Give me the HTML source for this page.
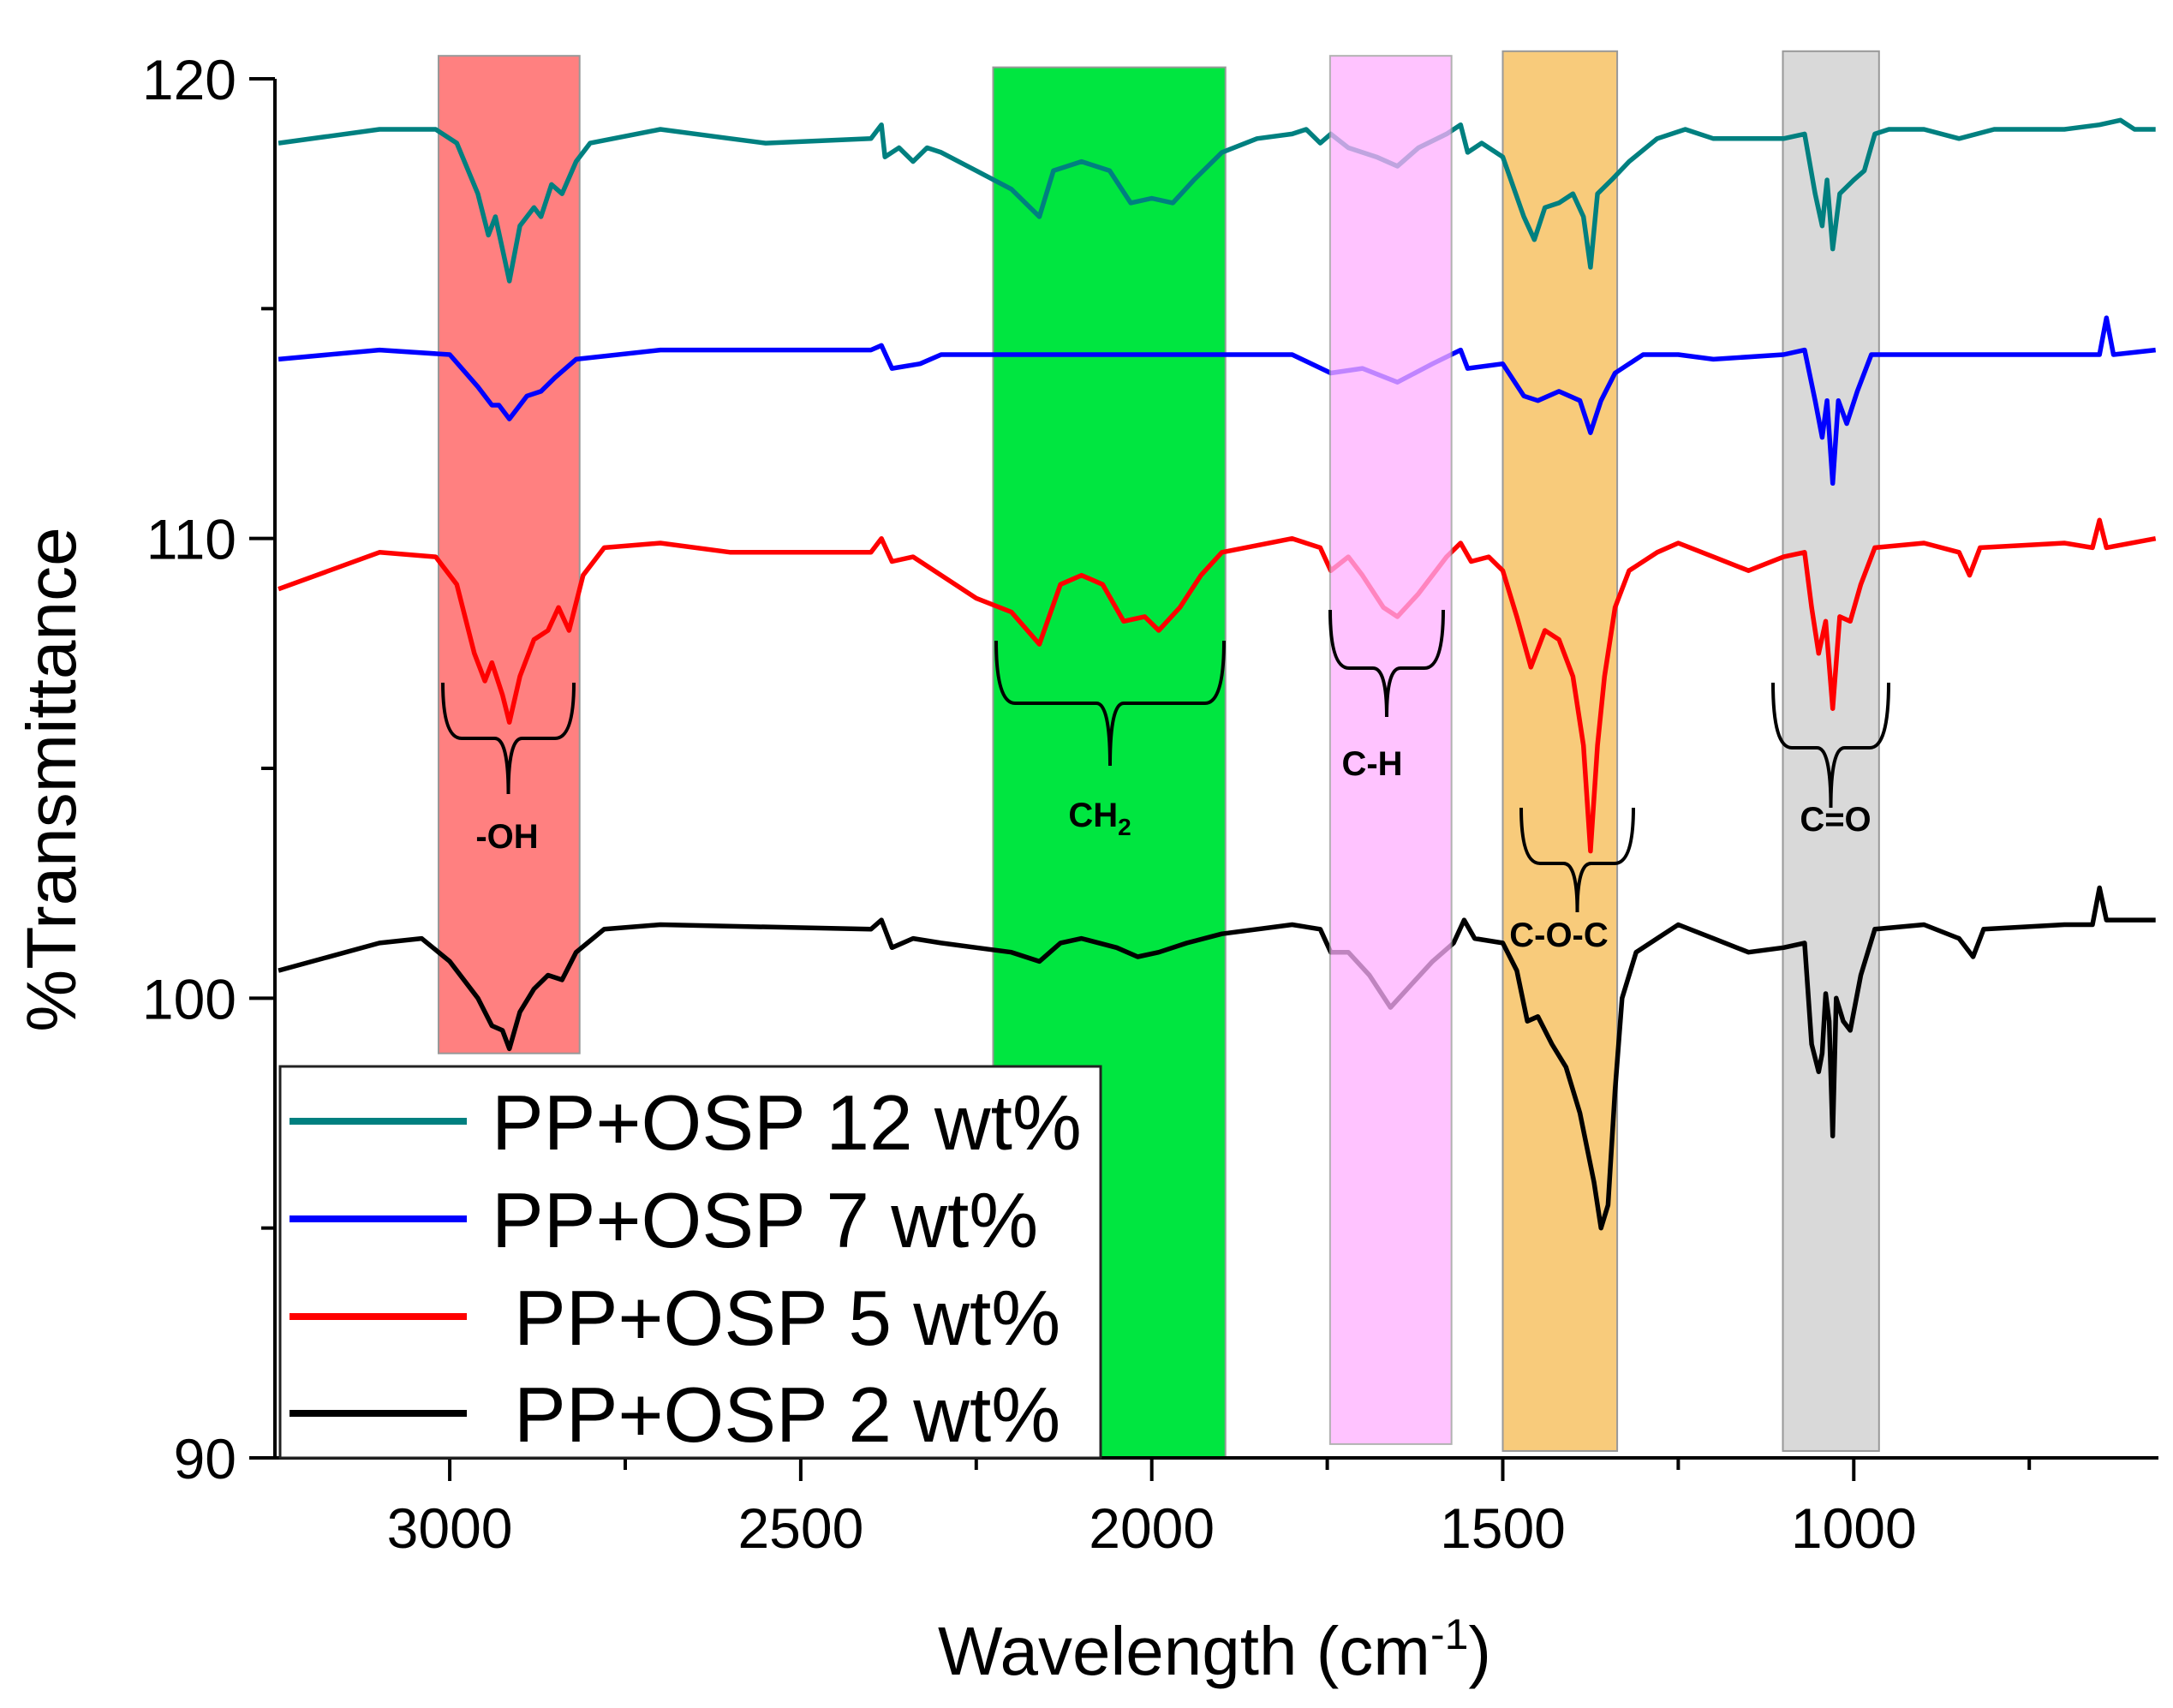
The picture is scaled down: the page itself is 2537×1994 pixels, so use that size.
<!DOCTYPE html>
<html><head><meta charset="utf-8"><style>
html,body{margin:0;padding:0;background:#fff;}
svg{display:block;font-family:"Liberation Sans",Arial,sans-serif;}
</style></head><body>
<svg id="chart" width="2537" height="1994" viewBox="0 0 2537 1994" xmlns="http://www.w3.org/2000/svg">
<g id="bands"></g>
<g id="series"></g>
<g id="overbands"></g>
<g id="axes"></g>
<g id="annot"></g>
<g id="legend"></g>
</svg>
<script>
const xTicks=[3000,2500,2000,1500,1000];
const xMinor=[2750,2250,1750,1250,750];
const yTicks=[90,100,110,120];
const yMinor=[95,105,115];
const bandLabels=['-OH','CH2','C-H','C-O-C','C=O'];
const bandFrom=[3016,2226,1746,1500,1101];
const bandTo=[2815,1895,1573,1337,964];
const bandTop=[120.5,120.25,120.5,120.6,120.6];
const bandBottom=[98.8,90,90.3,90.15,90.15];
const bandColors=['#ff8080','#00e640','#ffb0ff','#f8cb7b','#d9d9d9'];
const seriesNames=['PP+OSP 12 wt%','PP+OSP 7 wt%',' PP+OSP 5 wt%',' PP+OSP 2 wt%'];
const seriesColors=['#008080','#0000ff','#ff0000','#000000'];
const waveTeal=[3244,3100,3020,2990,2960,2945,2935,2925,2915,2900,2880,2870,2855,2840,2820,2800,2700,2600,2550,2400,2385,2380,2360,2340,2320,2300,2250,2200,2160,2140,2100,2060,2030,2000,1970,1940,1900,1850,1800,1780,1760,1745,1720,1680,1650,1620,1580,1560,1550,1530,1500,1470,1455,1440,1420,1400,1385,1375,1365,1345,1320,1280,1240,1200,1150,1100,1070,1055,1045,1038,1030,1020,1000,985,970,950,900,850,800,700,650,620,600,570];
const valTeal=[118.6,118.9,118.9,118.6,117.5,116.6,117.0,116.3,115.6,116.8,117.2,117.0,117.7,117.5,118.2,118.6,118.9,118.7,118.6,118.7,119.0,118.3,118.5,118.2,118.5,118.4,118.0,117.6,117.0,118.0,118.2,118.0,117.3,117.4,117.3,117.8,118.4,118.7,118.8,118.9,118.6,118.8,118.5,118.3,118.1,118.5,118.8,119.0,118.4,118.6,118.3,117.0,116.5,117.2,117.3,117.5,117.0,115.9,117.5,117.8,118.2,118.7,118.9,118.7,118.7,118.7,118.8,117.5,116.8,117.8,116.3,117.5,117.8,118.0,118.8,118.9,118.9,118.7,118.9,118.9,119.0,119.1,118.9,118.9];
const waveBlue=[3244,3100,3000,2960,2940,2930,2915,2890,2870,2850,2820,2700,2400,2385,2370,2330,2300,2000,1800,1745,1700,1650,1600,1560,1550,1500,1470,1450,1420,1390,1375,1360,1340,1300,1250,1200,1100,1070,1055,1045,1038,1030,1022,1010,995,975,900,700,650,640,630,570];
const valBlue=[113.9,114.1,114.0,113.3,112.9,112.9,112.6,113.1,113.2,113.5,113.9,114.1,114.1,114.2,113.7,113.8,114.0,114.0,114.0,113.6,113.7,113.4,113.8,114.1,113.7,113.8,113.1,113.0,113.2,113.0,112.3,113.0,113.6,114.0,114.0,113.9,114.0,114.1,113.0,112.2,113.0,111.2,113.0,112.5,113.2,114.0,114.0,114.0,114.0,114.8,114.0,114.1];
const waveRed=[3244,3100,3020,2990,2965,2950,2940,2925,2915,2900,2880,2860,2845,2830,2810,2780,2700,2600,2400,2385,2370,2340,2300,2250,2200,2160,2130,2100,2070,2040,2010,1990,1960,1930,1900,1800,1760,1745,1720,1700,1670,1650,1620,1580,1560,1545,1520,1500,1480,1460,1440,1420,1400,1385,1375,1365,1355,1340,1320,1280,1250,1200,1150,1100,1070,1060,1050,1040,1030,1020,1005,990,970,900,850,835,820,700,660,650,640,570];
const valRed=[108.9,109.7,109.6,109.0,107.5,106.9,107.3,106.6,106.0,107.0,107.8,108.0,108.5,108.0,109.2,109.8,109.9,109.7,109.7,110.0,109.5,109.6,109.2,108.7,108.4,107.7,109.0,109.2,109.0,108.2,108.3,108.0,108.5,109.2,109.7,110.0,109.8,109.3,109.6,109.2,108.5,108.3,108.8,109.6,109.9,109.5,109.6,109.3,108.3,107.2,108.0,107.8,107.0,105.5,103.2,105.5,107.0,108.5,109.3,109.7,109.9,109.6,109.3,109.6,109.7,108.5,107.5,108.2,106.3,108.3,108.2,109.0,109.8,109.9,109.7,109.2,109.8,109.9,109.8,110.4,109.8,110.0];
const waveBlack=[3244,3100,3040,3000,2960,2940,2925,2915,2900,2880,2860,2840,2820,2780,2700,2400,2385,2370,2340,2300,2200,2160,2130,2100,2050,2020,1990,1950,1900,1800,1760,1745,1720,1690,1660,1630,1600,1570,1555,1540,1500,1480,1465,1450,1430,1410,1390,1370,1360,1350,1340,1330,1310,1280,1250,1200,1150,1100,1070,1060,1050,1045,1040,1035,1030,1025,1015,1005,990,970,900,850,830,815,700,660,650,640,570];
const valBlack=[100.6,101.2,101.3,100.8,100.0,99.4,99.3,98.9,99.7,100.2,100.5,100.4,101.0,101.5,101.6,101.5,101.7,101.1,101.3,101.2,101.0,100.8,101.2,101.3,101.1,100.9,101.0,101.2,101.4,101.6,101.5,101.0,101.0,100.5,99.8,100.3,100.8,101.2,101.7,101.3,101.2,100.6,99.5,99.6,99.0,98.5,97.5,96.0,95.0,95.5,98.0,100.0,101.0,101.3,101.6,101.3,101.0,101.1,101.2,99.0,98.4,98.8,100.1,99.5,97.0,100.0,99.5,99.3,100.5,101.5,101.6,101.3,100.9,101.5,101.6,101.6,102.4,101.7,101.7];

const NS='http://www.w3.org/2000/svg';
const X0=321,X1=2520,Y0=1702,Y1=92;
const xMin=3249,xMax=566,yMin=90,yMax=120;
function sx(v){return X0+(xMin-v)/(xMin-xMax)*(X1-X0);}
function sy(v){return Y0-(v-yMin)/(yMax-yMin)*(Y0-Y1);}
function mk(tag,attrs,parent){const e=document.createElementNS(NS,tag);for(const k in attrs)e.setAttribute(k,attrs[k]);parent.appendChild(e);return e;}
const gB=document.getElementById('bands'),gS=document.getElementById('series'),gO=document.getElementById('overbands'),gA=document.getElementById('axes'),gN=document.getElementById('annot'),gL=document.getElementById('legend');

for(let i=0;i<bandFrom.length;i++){
  const parent=(i===2)?gO:gB;
  const r=mk('rect',{x:sx(bandFrom[i]),y:sy(bandTop[i]),width:sx(bandTo[i])-sx(bandFrom[i]),height:sy(bandBottom[i])-sy(bandTop[i]),fill:bandColors[i],stroke:'#999',"stroke-width":2,opacity:i===2?0.75:1},parent);
  
  
}
const waves=[waveTeal,waveBlue,waveRed,waveBlack];
const vals=[valTeal,valBlue,valRed,valBlack];
const sNames=['series-12wt','series-7wt','series-5wt','series-2wt'];
for(let s=0;s<4;s++){
  let d='';
  for(let i=0;i<waves[s].length;i++){d+=(i?'L':'M')+sx(waves[s][i]).toFixed(1)+','+sy(vals[s][i]).toFixed(1);}
  const p=mk('path',{d:d,fill:'none',stroke:seriesColors[s],"stroke-width":5.5,"stroke-linejoin":'round'},gS);
  
  
}
const ax=mk('path',{d:`M${X0},${Y1}L${X0},${Y0}L${X1},${Y0}`,fill:'none',stroke:'#000',"stroke-width":4},gA);


xTicks.forEach(v=>{
  const t=mk('line',{x1:sx(v),x2:sx(v),y1:Y0,y2:Y0+27,stroke:'#000',"stroke-width":4},gA);
  
  
  const l=mk('text',{x:sx(v),y:Y0+105,"font-size":66,"text-anchor":'middle'},gA);l.textContent=v;
  
  
});
xMinor.forEach(v=>{const t=mk('line',{x1:sx(v),x2:sx(v),y1:Y0,y2:Y0+14,stroke:'#000',"stroke-width":4},gA);
  
  });
yTicks.forEach(v=>{
  const t=mk('line',{x1:X0-30,x2:X0,y1:sy(v),y2:sy(v),stroke:'#000',"stroke-width":4},gA);
  
  
  const l=mk('text',{x:X0-45,y:sy(v)+24,"font-size":66,"text-anchor":'end'},gA);l.textContent=v;
  
  
});
yMinor.forEach(v=>{const t=mk('line',{x1:X0-16,x2:X0,y1:sy(v),y2:sy(v),stroke:'#000',"stroke-width":4},gA);
  
  });
const yt=mk('text',{x:0,y:0,"font-size":82,"text-anchor":'middle',transform:'translate(88,910) rotate(-90)'},gA);yt.textContent='%Transmittance';


const xt=mk('text',{x:1418,y:1955,"font-size":80,"text-anchor":'middle'},gA);
xt.innerHTML='Wavelength (cm<tspan dy="-30" font-size="50">-1</tspan><tspan dy="30">)</tspan>';


const braces=[[517,670,797,862,927],[1163,1429,748,821,894],[1553,1685,712,780,837],[1776,1907,943,1008,1065],[2070,2205,797,873,943]];
const labelPos=[[592,990],[1284,965],[1602,905],[1820,1105],[2143,970]];
braces.forEach((b,i)=>{
  const [x1,x2,top,mid,tip]=b,c=(x1+x2)/2;
  const p=mk('path',{d:`M${x1},${top}Q${x1},${mid} ${x1+22},${mid}L${c-16},${mid}Q${c},${mid} ${c},${tip}Q${c},${mid} ${c+16},${mid}L${x2-22},${mid}Q${x2},${mid} ${x2},${top}`,fill:'none',stroke:'#000',"stroke-width":4},gN);
  
  
  const t=mk('text',{x:labelPos[i][0],y:labelPos[i][1],"font-size":40,"font-weight":'bold',"text-anchor":'middle'},gN);
  if(i===1){t.innerHTML='CH<tspan dy="10" font-size="28">2</tspan>';}else{t.textContent=bandLabels[i];}
  
  
});
const lb=mk('rect',{x:327,y:1245,width:958,height:457,fill:'#fff',stroke:'#222',"stroke-width":3},gL);


const ly=[1309,1423,1537,1650],lx=[574,574,600,600];
for(let s=0;s<4;s++){
  const l=mk('line',{x1:338,x2:545,y1:ly[s],y2:ly[s],stroke:seriesColors[s],"stroke-width":8},gL);
  
  
  const t=mk('text',{x:lx[s],y:ly[s]+33,"font-size":91},gL);t.textContent=seriesNames[s].trim();
  
  
}
</script>
</body></html>
